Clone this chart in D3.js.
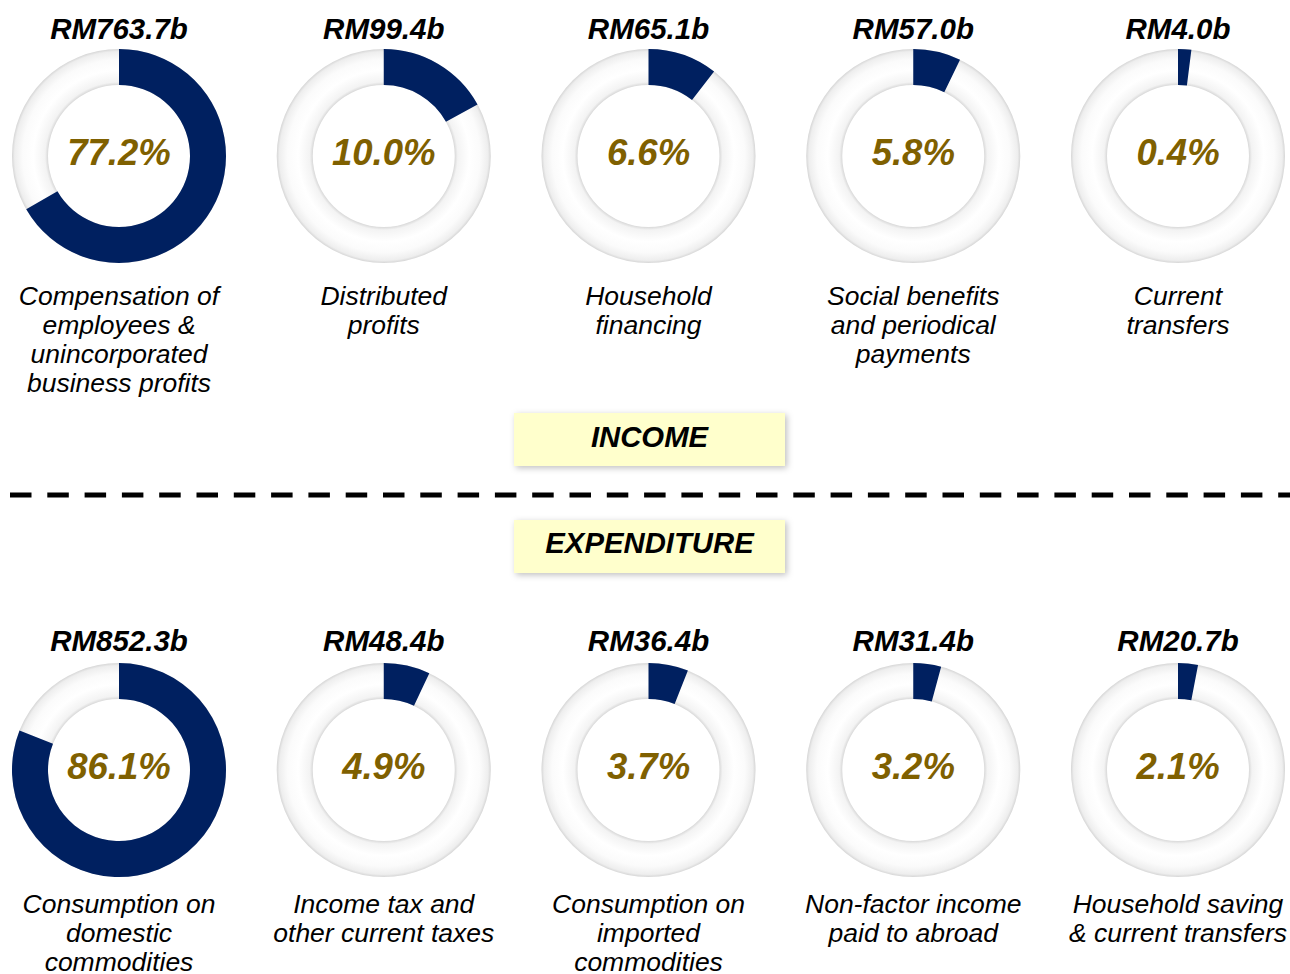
<!DOCTYPE html>
<html>
<head>
<meta charset="utf-8">
<script src="https://cdn.jsdelivr.net/npm/d3@7"></script>
<style>
  html, body { margin: 0; padding: 0; background: #ffffff; }
  svg { display: block; }
  text { font-family: "Liberation Sans", Arial, Helvetica, sans-serif; }
</style>
</head>
<body>
<svg id="chart" width="1290" height="974"></svg>
<script>
// ---------- DATA ----------
const incomeCategories = [
  "Compensation of|employees &|unincorporated|business profits",
  "Distributed|profits",
  "Household|financing",
  "Social benefits|and periodical|payments",
  "Current|transfers"
];
const incomeValues = [763.7, 99.4, 65.1, 57.0, 4.0];          // RM billion
const incomePct = [77.2, 10.0, 6.6, 5.8, 0.4];                 // share labels (%)
const incomeArcShare = [66.7, 17.0, 10.5, 7.2, 2.0];           // arc size as drawn (%)

const expenditureCategories = [
  "Consumption on|domestic|commodities",
  "Income tax and|other current taxes",
  "Consumption on|imported|commodities",
  "Non-factor income|paid to abroad",
  "Household saving|& current transfers"
];
const expenditureValues = [852.3, 48.4, 36.4, 31.4, 20.7];     // RM billion
const expenditurePct = [86.1, 4.9, 3.7, 3.2, 2.1];             // share labels (%)
const expenditureArcShare = [81.0, 7.0, 6.0, 4.2, 3.0];        // arc size as drawn (%)

const sectionTitles = ["INCOME", "EXPENDITURE"];

// ---------- LAYOUT ----------
const W = 1290, H = 974;
const svg = d3.select("#chart");
const NAVY = "#002060", GOLD = "#7F6000";
const rOuter = 107, rInner = 71;

const defs = svg.append("defs");
const grad = defs.append("radialGradient")
  .attr("id", "ringGrad").attr("gradientUnits", "userSpaceOnUse")
  .attr("cx", 0).attr("cy", 0).attr("r", rOuter);
[[0, "#d8d8d8"], [rInner / rOuter, "#d9d9d9"], [(rInner + 3) / rOuter, "#f3f3f3"],
 [0.80, "#ffffff"], [0.90, "#fbfbfb"], [0.975, "#eeeeee"], [1, "#d6d6d6"]]
  .forEach(([o, c]) => grad.append("stop").attr("offset", o).attr("stop-color", c));

const shadow = defs.append("filter").attr("id", "boxShadow")
  .attr("x", "-10%").attr("y", "-30%").attr("width", "120%").attr("height", "160%");
shadow.append("feDropShadow").attr("dx", 2).attr("dy", 2).attr("stdDeviation", 3)
  .attr("flood-color", "#000").attr("flood-opacity", 0.25);

const x = d3.scalePoint().domain(d3.range(5)).range([119, 1178]);
const arc = d3.arc().innerRadius(rInner).outerRadius(rOuter);
const pie = d3.pie().sort(null).value(d => d).startAngle(0).endAngle(2 * Math.PI);

function drawRow(cats, vals, pcts, shares, cy, valueBase, labelBase) {
  const g = svg.append("g");
  const items = cats.map((c, i) => ({ c, v: vals[i], p: pcts[i], s: shares[i], i }));
  const cell = g.selectAll("g.cell").data(items).join("g")
    .attr("class", "cell")
    .attr("transform", d => `translate(${x(d.i)},0)`);

  // value label
  cell.append("text")
    .attr("x", 0).attr("y", valueBase)
    .attr("text-anchor", "middle")
    .attr("font-size", 29.5).attr("font-weight", "bold").attr("font-style", "italic")
    .attr("fill", "#000")
    .text(d => "RM" + d.v.toFixed(1) + "b");

  const donut = cell.append("g").attr("transform", `translate(0,${cy})`);
  // full ring
  donut.append("path")
    .attr("d", arc({ startAngle: 0, endAngle: 2 * Math.PI }))
    .attr("fill", "url(#ringGrad)");
  // share segment
  donut.append("path")
    .attr("d", d => arc(pie([d.s, 100 - d.s])[0]))
    .attr("fill", NAVY);
  // percent
  donut.append("text")
    .attr("x", 0).attr("y", 9)
    .attr("text-anchor", "middle")
    .attr("font-size", 36.5).attr("font-weight", "bold").attr("font-style", "italic")
    .attr("fill", GOLD)
    .text(d => d.p.toFixed(1) + "%");

  // category label
  const lbl = cell.append("text")
    .attr("text-anchor", "middle")
    .attr("font-size", 26.5).attr("font-style", "italic")
    .attr("fill", "#000");
  lbl.selectAll("tspan").data(d => d.c.split("|")).join("tspan")
    .attr("x", 0)
    .attr("y", (t, j) => labelBase + j * 29)
    .text(t => t);
}

drawRow(incomeCategories, incomeValues, incomePct, incomeArcShare, 156, 39, 305);
drawRow(expenditureCategories, expenditureValues, expenditurePct, expenditureArcShare, 770, 651, 913);

// section boxes
const boxes = [{ t: sectionTitles[0], y: 413, base: 447 }, { t: sectionTitles[1], y: 520, base: 553 }];
const bg = svg.append("g");
bg.selectAll("rect").data(boxes).join("rect")
  .attr("x", 514).attr("y", d => d.y).attr("width", 271).attr("height", 53)
  .attr("fill", "#FFFFCC").attr("filter", "url(#boxShadow)");
bg.selectAll("text").data(boxes).join("text")
  .attr("x", 649.5).attr("y", d => d.base)
  .attr("text-anchor", "middle")
  .attr("font-size", 29.3).attr("font-weight", "bold").attr("font-style", "italic")
  .attr("fill", "#000")
  .text(d => d.t);

// dashed separator
svg.append("line")
  .attr("x1", 10).attr("x2", W).attr("y1", 495).attr("y2", 495)
  .attr("stroke", "#000").attr("stroke-width", 5)
  .attr("stroke-dasharray", "21.5 15.8");
</script>
</body>
</html>
